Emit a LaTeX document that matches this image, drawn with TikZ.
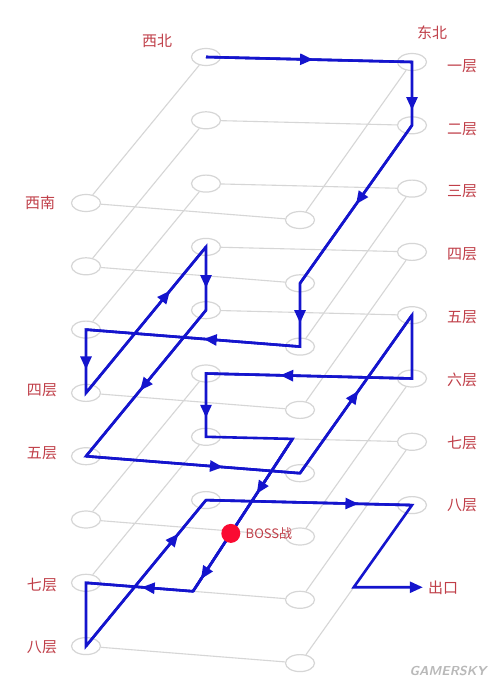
\documentclass[tikz,border=0pt]{standalone}
\usepackage{fontspec}
\newfontfamily\cjk{Noto Sans CJK SC}
\usetikzlibrary{shapes.geometric,arrows.meta,decorations.markings,calc}
\definecolor{pathblue}{RGB}{20,20,205}
\definecolor{gridgray}{RGB}{214,214,214}
\definecolor{labred}{RGB}{192,62,72}
\definecolor{bossred}{RGB}{250,10,50}
\definecolor{wmgray}{RGB}{185,185,185}
\begin{document}
\begin{tikzpicture}[x=1pt,y=-1pt,
  el/.style={ellipse, draw=gridgray, fill=white, line width=1.2pt, minimum width=29pt, minimum height=17pt, inner sep=0pt},
  grid/.style={draw=gridgray, line width=1.1pt},
  route/.style={draw=pathblue, color=pathblue, line width=2.6pt, line join=miter},
  arr/.style={decoration={markings, mark=at position #1 with {\arrow{Triangle[length=13pt,width=11pt]}}}, postaction={decorate}},
  lab/.style={text=labred, font=\cjk\fontsize{15}{17}\selectfont, inner sep=0pt},
]
\useasboundingbox (0,0) rectangle (500,682);
\fill[white] (0,0) rectangle (500,682);

% layers
\foreach \k in {1,...,8}{
  \pgfmathsetmacro{\dy}{63.3*(\k-1)}
  \node[el] (nw\k) at (206,{57+\dy}) {};
  \node[el] (ne\k) at (412,{62+\dy}) {};
  \node[el] (sw\k) at (86,{203+\dy}) {};
  \node[el] (se\k) at (300,{220+\dy}) {};
}
\foreach \k in {1,...,8}{
  \draw[grid] (nw\k) -- (ne\k) -- (se\k) -- (sw\k) -- (nw\k);
}

% labels
\node[lab] (lnw) at (157,41) {西北};
\node[lab] (lne) at (432,33) {东北};
\node[lab] (lsw) at (40,203) {西南};
\foreach \k/\t in {1/一层,2/二层,3/三层,4/四层,5/五层,6/六层,7/七层,8/八层}{
  \pgfmathsetmacro{\dy}{62.8*(\k-1)}
  \node[lab] (r\k) at (462,{66+\dy}) {\t};
}
\node[lab] (l4) at (42,390) {四层};
\node[lab] (l5) at (42,453) {五层};
\node[lab] (l7) at (42,585) {七层};
\node[lab] (l8) at (42,647) {八层};
\node[lab] (exit) at (443,588) {出口};

% helper points
\coordinate (P) at ($(nw7.center)!0.42!(ne7.center)$);
\coordinate (Q) at ($(sw7.center)!0.5!(se7.center)$);
\coordinate (R) at ($(ne8.center)!0.52!(se8.center)$);
\coordinate (E) at ($(R -| exit.west)+(-5,0)$);

% route
\draw[route, -{Triangle[length=13pt,width=11pt]}]
  (nw1.center) -- (ne1.center) -- (ne2.center) -- (se2.center) -- (se3.center)
  -- (sw3.center) -- (sw4.center) -- (nw4.center) -- (nw5.center) -- (sw5.center)
  -- (se5.center) -- (ne5.center) -- (ne6.center) -- (nw6.center) -- (nw7.center)
  -- (P) -- (Q) -- (sw7.center) -- (sw8.center) -- (nw8.center) -- (ne8.center)
  -- (R) -- (E);

\draw[route, arr=0.52] (nw1.center) -- (ne1.center);
\draw[route, arr=0.76] (ne1.center) -- (ne2.center);
\draw[route, arr=0.5] (ne2.center) -- (se2.center);
\draw[route, arr=0.63] (se2.center) -- (se3.center);
\draw[route, arr=0.45] (se3.center) -- (sw3.center);
\draw[route, arr=0.63] (sw3.center) -- (sw4.center);
\draw[route, arr=0.70] (sw4.center) -- (nw4.center);
\draw[route, arr=0.65] (nw4.center) -- (nw5.center);
\draw[route, arr=0.55] (nw5.center) -- (sw5.center);
\draw[route, arr=0.64] (sw5.center) -- (se5.center);
\draw[route, arr=0.52] (se5.center) -- (ne5.center);
\draw[route, arr=0.64] (ne6.center) -- (nw6.center);
\draw[route, arr=0.70] (nw6.center) -- (nw7.center);
\draw[route, arr=0.36] (P) -- (Q);
\draw[route, arr=0.92] (P) -- (Q);
\draw[route, arr=0.48] (Q) -- (sw7.center);
\draw[route, arr=0.77] (sw8.center) -- (nw8.center);
\draw[route, arr=0.74] (nw8.center) -- (ne8.center);

% boss
\node[circle, fill=bossred, minimum size=19pt, inner sep=0pt] (boss) at ($(P)!0.62!(Q)$) {};
\node[lab, anchor=west, font=\cjk\fontsize{13}{15}\selectfont] (bosslab) at ([xshift=5pt]boss.east) {BOSS战};

% watermark
\node[text=wmgray, font=\sffamily\bfseries\slshape\fontsize{13}{14}\selectfont, inner sep=0pt] (wm) at (448,671) {GAMERSKY};
\end{tikzpicture}
\end{document}
